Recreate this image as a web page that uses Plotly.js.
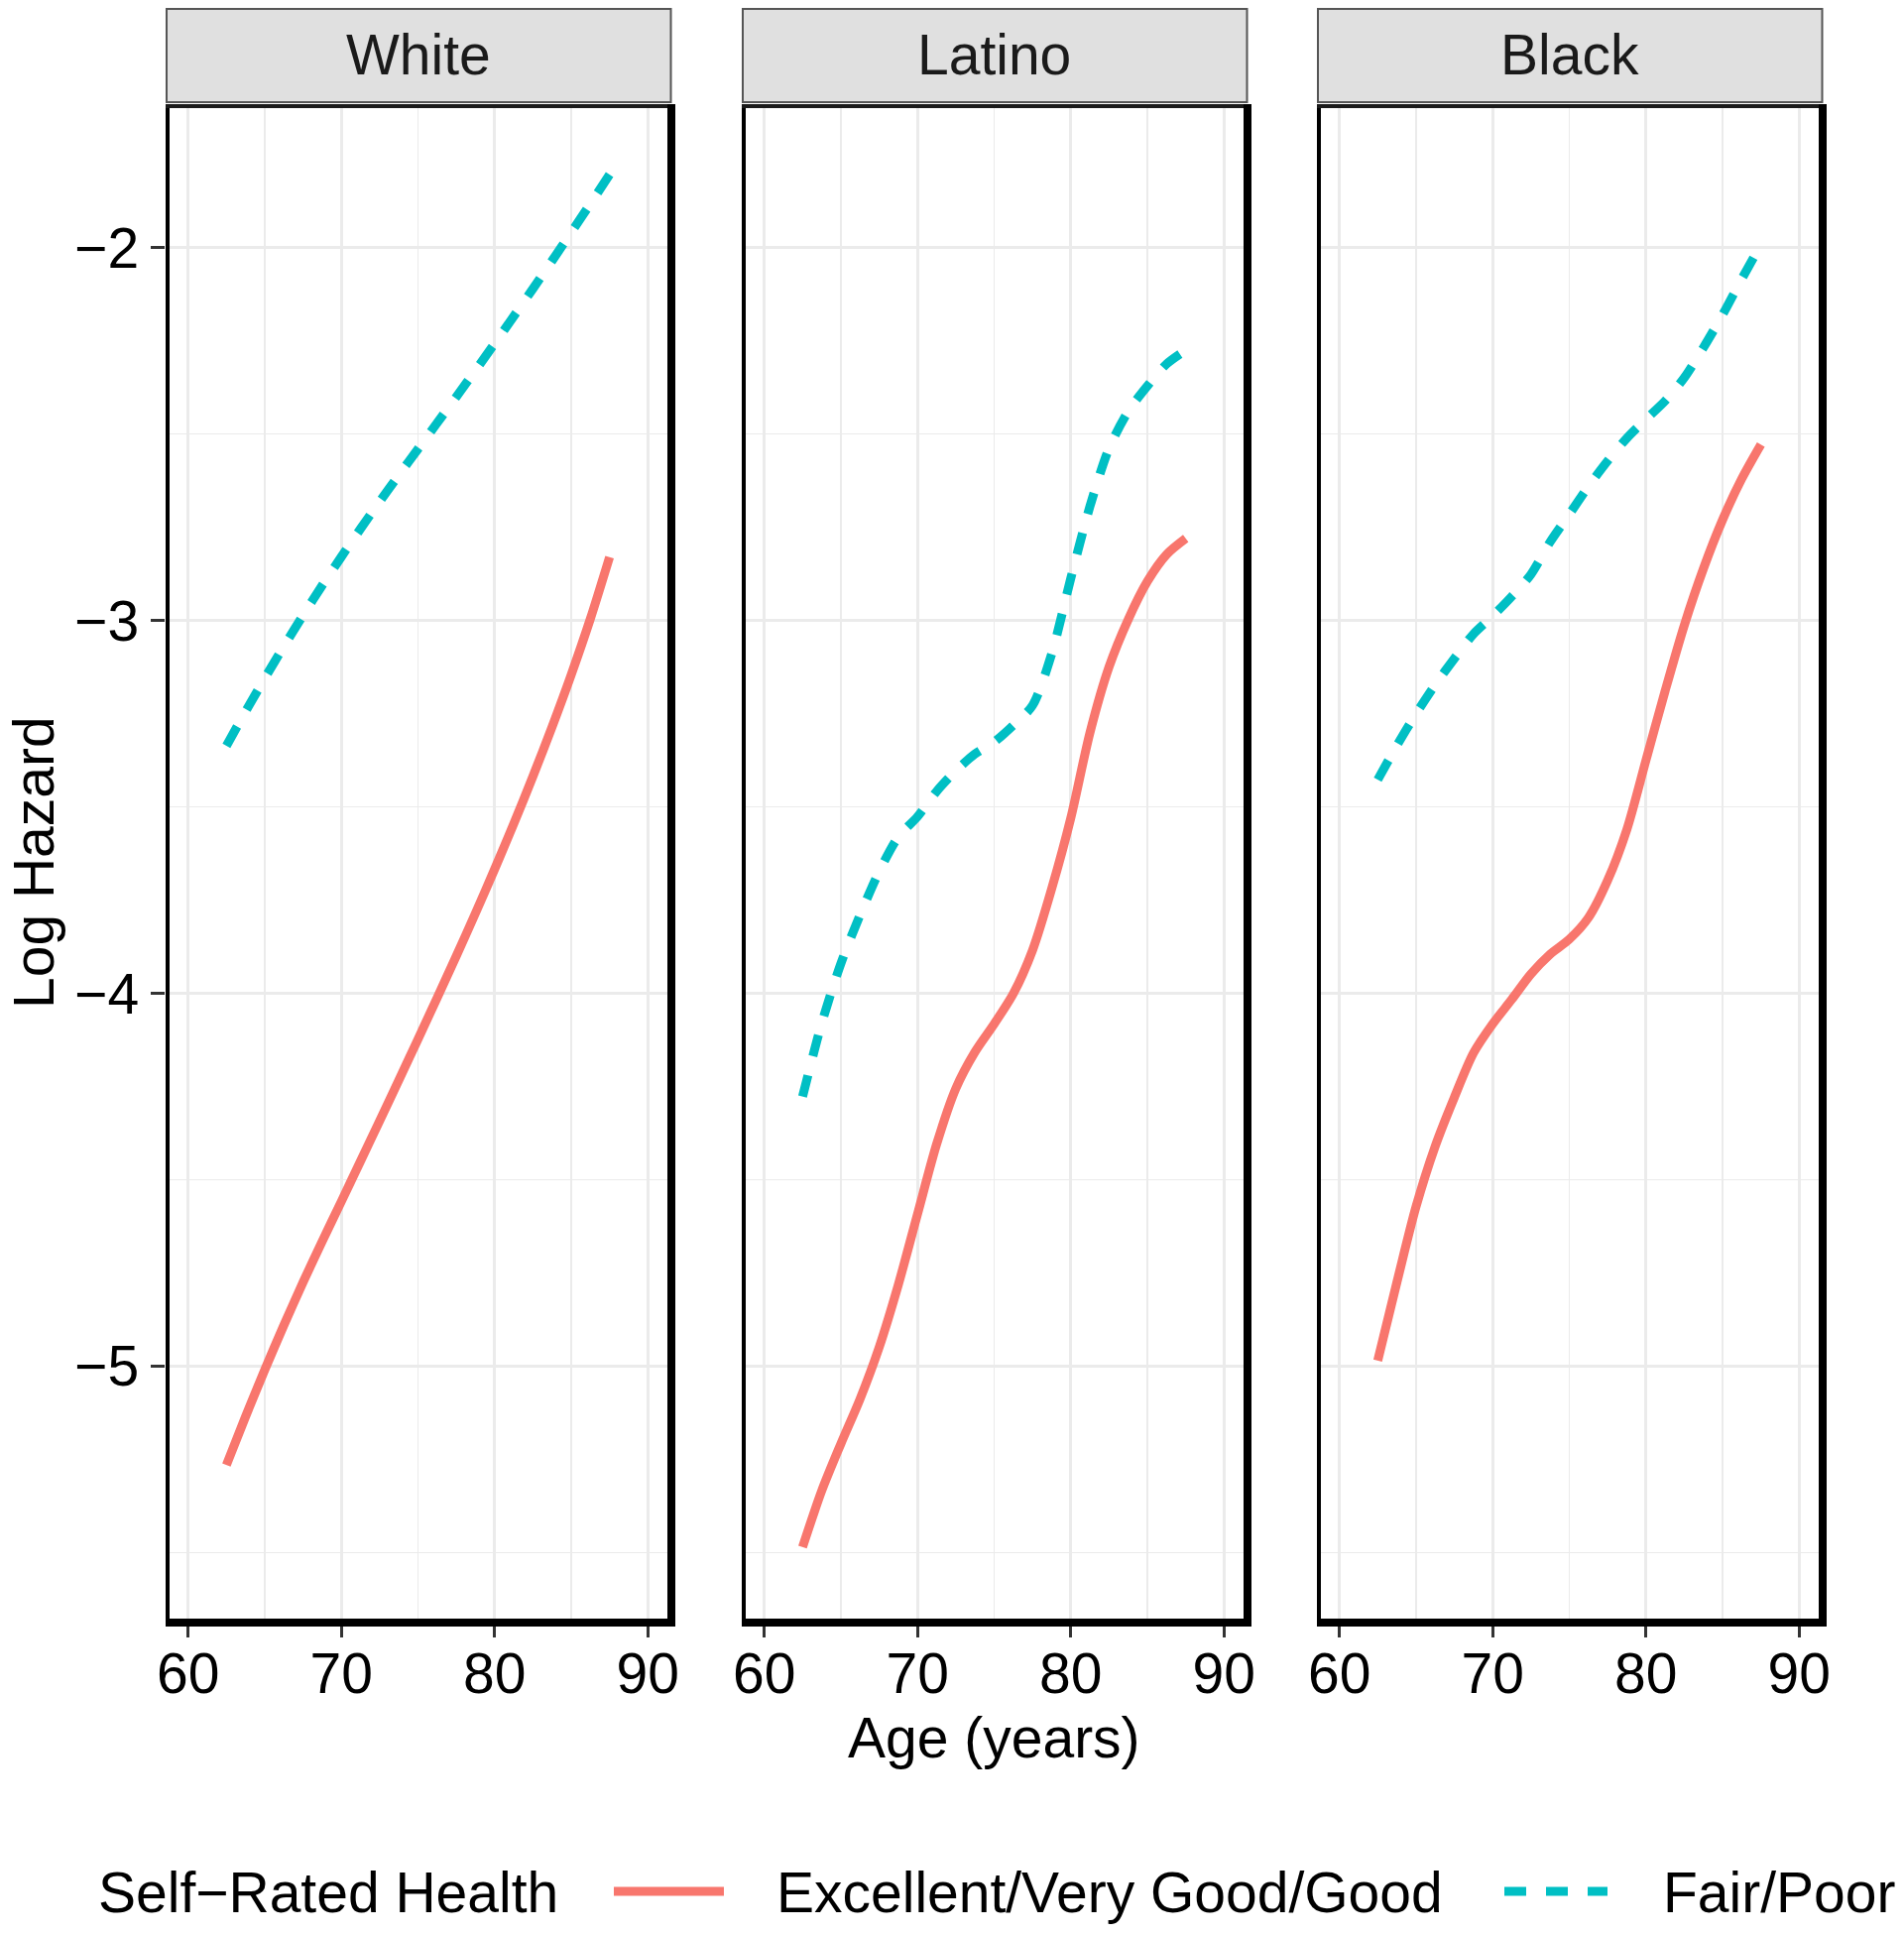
<!DOCTYPE html>
<html>
<head>
<meta charset="utf-8">
<script src="https://cdn.plot.ly/plotly-3.0.1.min.js"></script>
<style>html,body{margin:0;padding:0;background:#fff;}#chart{width:1920px;height:1950px;}</style>
</head>
<body>
<div id="chart"></div>
<script>
// ---- data ----
const panels = ["White", "Latino", "Black"];
const ages = [62.5, 63.75, 65, 66.25, 67.5, 68.75, 70, 71.25, 72.5, 73.75, 75,
              76.25, 77.5, 78.75, 80, 81.25, 82.5, 83.75, 85, 86.25, 87.5];

const whiteGood  = [-5.265, -5.135, -5.01, -4.89, -4.775, -4.665, -4.558, -4.45, -4.342, -4.233, -4.123,
                    -4.012, -3.9, -3.785, -3.667, -3.545, -3.418, -3.285, -3.145, -2.995, -2.83];
const whiteFair  = [-3.336, -3.244, -3.155, -3.069, -2.986, -2.906, -2.829, -2.754, -2.681, -2.61, -2.54,
                    -2.47, -2.4, -2.329, -2.257, -2.184, -2.11, -2.035, -1.959, -1.882, -1.804];
const latinoGood = [-5.485, -5.334, -5.208, -5.088, -4.949, -4.781, -4.592, -4.404, -4.255, -4.157, -4.082,
                    -4.001, -3.885, -3.72, -3.53, -3.301, -3.124, -2.997, -2.895, -2.823, -2.78];
const latinoFair = [-4.277, -4.08, -3.92, -3.79, -3.673, -3.58, -3.526, -3.458, -3.403, -3.358, -3.326,
                    -3.281, -3.228, -3.09, -2.887, -2.694, -2.538, -2.439, -2.371, -2.312, -2.275];
const blackGood  = [-4.985, -4.775, -4.572, -4.41, -4.279, -4.16, -4.082, -4.016, -3.948, -3.895, -3.855,
                    -3.797, -3.697, -3.561, -3.375, -3.189, -3.013, -2.861, -2.73, -2.62, -2.528];
const blackFair  = [-3.427, -3.335, -3.25, -3.172, -3.102, -3.036, -2.988, -2.935, -2.876, -2.789, -2.715,
                    -2.64, -2.572, -2.511, -2.46, -2.411, -2.349, -2.268, -2.18, -2.084, -1.992];

const seriesNames = ["Excellent/Very Good/Good", "Fair/Poor"];
const legendTitle = "Self\u2212Rated Health";
const xTitle = "Age (years)";
const yTitle = "Log Hazard";
const xTicks = [60, 70, 80, 90];
const yTicks = [-5, -4, -3, -2];

// ---- styling ----
const W = 1920, H = 1950;
const RED = "#F8766D", TEAL = "#00BFC4";
const FONT = "Liberation Sans, Arial, Helvetica, sans-serif";
const FS = 57;
const LW = 9;
const DASH = "22px,20px";
const px = x => x / W;
const py = y => 1 - y / H;

const doms = [[166.5, 676.5], [747.5, 1257.5], [1327.5, 1837.5]];
const yDom = [105, 1635];

const goodData = [whiteGood, latinoGood, blackGood];
const fairData = [whiteFair, latinoFair, blackFair];

const traces = [];
panels.forEach((p, i) => {
  const xa = i === 0 ? "x" : "x" + (i + 1);
  traces.push({
    type: "scatter", mode: "lines", x: ages, y: goodData[i], xaxis: xa, yaxis: "y",
    name: seriesNames[0], showlegend: false,
    line: {color: RED, width: LW, shape: "spline", smoothing: 0.8}
  });
  traces.push({
    type: "scatter", mode: "lines", x: ages, y: fairData[i], xaxis: xa, yaxis: "y",
    name: seriesNames[1], showlegend: false,
    line: {color: TEAL, width: LW, dash: DASH, shape: "spline", smoothing: 0.8}
  });
});

function xAxis(i) {
  return {
    domain: [px(doms[i][0]), px(doms[i][1])],
    range: [58.5, 91.5],
    anchor: "y",
    tickmode: "array", tickvals: xTicks, ticktext: xTicks.map(String),
    ticks: "outside", ticklen: 15, tickwidth: 3, tickcolor: "#333333",
    ticklabelstandoff: -12,
    tickfont: {family: FONT, size: FS, color: "#000"},
    showgrid: true, gridcolor: "#EBEBEB", gridwidth: 3,
    minor: {tickvals: [65, 75, 85], showgrid: true, gridcolor: "#EBEBEB", gridwidth: 1.5, ticks: ""},
    zeroline: false, showline: false, fixedrange: true
  };
}

const layout = {
  width: W, height: H,
  margin: {l: 0, r: 0, t: 0, b: 0, pad: 0},
  paper_bgcolor: "#fff", plot_bgcolor: "#fff",
  showlegend: false,
  font: {family: FONT, size: FS, color: "#000"},
  xaxis: xAxis(0), xaxis2: xAxis(1), xaxis3: xAxis(2),
  yaxis: {
    domain: [py(yDom[1]), py(yDom[0])],
    range: [-5.685, -1.615],
    anchor: "x",
    tickmode: "array", tickvals: yTicks, ticktext: yTicks.map(v => "\u2212" + Math.abs(v)),
    ticks: "outside", ticklen: 14, tickwidth: 3, tickcolor: "#333333",
    tickfont: {family: FONT, size: FS, color: "#000"},
    showgrid: true, gridcolor: "#EBEBEB", gridwidth: 3,
    minor: {tickvals: [-5.5, -4.5, -3.5, -2.5], showgrid: true, gridcolor: "#EBEBEB", gridwidth: 1.5, ticks: ""},
    zeroline: false, showline: false, fixedrange: true
  },
  shapes: [],
  annotations: []
};

// panel borders and strips
doms.forEach((d, i) => {
  const L = d[0] + 2.5, R = d[1] + 0.5, T = 107, B = 1636;
  layout.shapes.push({type: "line", xref: "paper", yref: "paper", x0: px(L), x1: px(L), y0: py(T - 2), y1: py(B + 4), line: {color: "#000", width: 4}});
  layout.shapes.push({type: "line", xref: "paper", yref: "paper", x0: px(L - 2), x1: px(R + 4), y0: py(T), y1: py(T), line: {color: "#1a1a1a", width: 4}});
  layout.shapes.push({type: "line", xref: "paper", yref: "paper", x0: px(R), x1: px(R), y0: py(T - 2), y1: py(B + 4), line: {color: "#000", width: 8}});
  layout.shapes.push({type: "line", xref: "paper", yref: "paper", x0: px(L - 2), x1: px(R + 4), y0: py(B), y1: py(B), line: {color: "#000", width: 8}});
  // strip
  layout.shapes.push({type: "rect", xref: "paper", yref: "paper", x0: px(d[0] + 1.5), x1: px(d[1]), y0: py(103), y1: py(9),
    fillcolor: "#E0E0E0", line: {color: "#555555", width: 2}});
  layout.annotations.push({xref: "paper", yref: "paper", x: px((d[0] + d[1]) / 2), y: py(55),
    xanchor: "center", yanchor: "middle", text: panels[i], showarrow: false,
    font: {family: FONT, size: FS, color: "#1A1A1A"}});
});

// axis titles
layout.annotations.push({xref: "paper", yref: "paper", x: px((doms[1][0] + doms[1][1]) / 2), y: py(1752),
  xanchor: "center", yanchor: "middle", text: xTitle, showarrow: false, font: {family: FONT, size: FS, color: "#000"}});
layout.annotations.push({xref: "paper", yref: "paper", x: px(34), y: py(870),
  xanchor: "center", yanchor: "middle", text: yTitle, textangle: -90, showarrow: false, font: {family: FONT, size: FS, color: "#000"}});

// legend (bottom, horizontal)
const LY = 1907;
layout.annotations.push({xref: "paper", yref: "paper", x: px(97), y: py(LY + 1), xanchor: "left", yanchor: "middle",
  text: legendTitle, showarrow: false, font: {family: FONT, size: FS, color: "#000"}});
layout.shapes.push({type: "line", xref: "paper", yref: "paper", x0: px(619), x1: px(730), y0: py(LY), y1: py(LY),
  line: {color: RED, width: LW}});
layout.annotations.push({xref: "paper", yref: "paper", x: px(781), y: py(LY + 1), xanchor: "left", yanchor: "middle",
  text: seriesNames[0], showarrow: false, font: {family: FONT, size: FS, color: "#000"}});
layout.shapes.push({type: "line", xref: "paper", yref: "paper", x0: px(1517), x1: px(1621), y0: py(LY), y1: py(LY),
  line: {color: TEAL, width: LW, dash: DASH}});
layout.annotations.push({xref: "paper", yref: "paper", x: px(1675), y: py(LY + 1), xanchor: "left", yanchor: "middle",
  text: seriesNames[1], showarrow: false, font: {family: FONT, size: FS, color: "#000"}});

Plotly.newPlot("chart", traces, layout, {staticPlot: true, displayModeBar: false});
</script>
</body>
</html>
